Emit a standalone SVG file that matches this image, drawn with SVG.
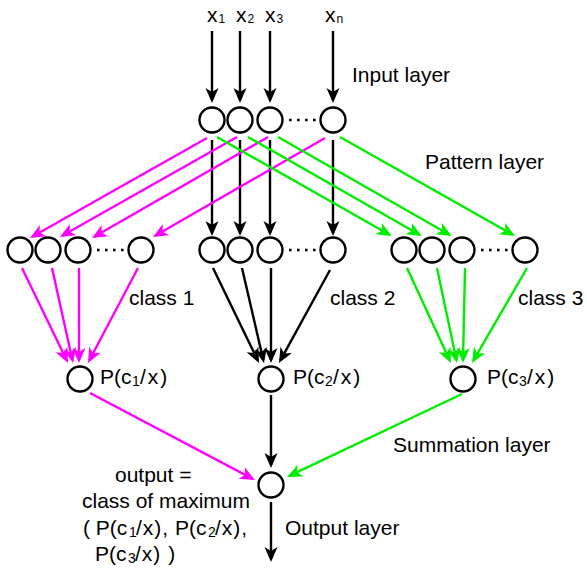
<svg xmlns="http://www.w3.org/2000/svg" width="587" height="570" viewBox="0 0 587 570">
  <style>
    text { font-family: "Liberation Sans", Arial, sans-serif; font-size: 21px; fill: #000; }
    .sub { font-size: 14px; }
    .xs { font-size: 12px; }
    .node { fill: #fff; stroke: #000; stroke-width: 2.4; }
    .k { fill: none; stroke: #000; stroke-width: 2.4; marker-end: url(#ak); }
    .m { fill: none; stroke: #ff00ff; stroke-width: 2.4; marker-end: url(#am); }
    .g { fill: none; stroke: #00ee00; stroke-width: 2.4; marker-end: url(#ag); }
    .dots { stroke: #000; stroke-width: 2.6; stroke-dasharray: 2.6 5.4; }
  </style>
  <defs>
    <marker id="ak" markerUnits="userSpaceOnUse" markerWidth="16" markerHeight="14" refX="12" refY="6.5" orient="auto" overflow="visible">
      <path d="M0,0 L15,6.5 L0,13 L4,6.5 z" fill="#000"/>
    </marker>
    <marker id="am" markerUnits="userSpaceOnUse" markerWidth="16" markerHeight="14" refX="12" refY="6.5" orient="auto" overflow="visible">
      <path d="M0,0 L15,6.5 L0,13 L4,6.5 z" fill="#ff00ff"/>
    </marker>
    <marker id="ag" markerUnits="userSpaceOnUse" markerWidth="16" markerHeight="14" refX="12" refY="6.5" orient="auto" overflow="visible">
      <path d="M0,0 L15,6.5 L0,13 L4,6.5 z" fill="#00ee00"/>
    </marker>
  </defs>

  <!-- connectors -->
  <g id="connectors">
    <!-- inputs into input layer -->
    <path class="k" d="M212,31 L212,100"/>
    <path class="k" d="M240,31 L240,100"/>
    <path class="k" d="M270,31 L270,100"/>
    <path class="k" d="M333,31 L333,100"/>
    <!-- input layer to class 2 -->
    <path class="k" d="M212,140 L212,233"/>
    <path class="k" d="M240,140 L240,233"/>
    <path class="k" d="M270,140 L270,233"/>
    <path class="k" d="M333,140 L333,233"/>
    <!-- input layer to class 1 -->
    <path class="m" d="M207,138 L32.6,236.5"/>
    <path class="m" d="M237,137 L62.6,235.5"/>
    <path class="m" d="M268,137 L94.6,236.5"/>
    <path class="m" d="M325,138 L155.6,235.5"/>
    <!-- input layer to class 3 -->
    <path class="g" d="M217,137 L389.1,234.5"/>
    <path class="g" d="M248,137 L419.1,234.5"/>
    <path class="g" d="M278,137 L449.1,234.5"/>
    <path class="g" d="M340,137 L512.4,234.5"/>
    <!-- class 1 to summation -->
    <path class="m" d="M22,268 L66.7,360.3"/>
    <path class="m" d="M52,268 L72.4,360.1"/>
    <path class="m" d="M79,268 L79,360"/>
    <path class="m" d="M138,268 L89.4,360.3"/>
    <!-- class 2 to summation -->
    <path class="k" d="M213,268 L257.7,360.3"/>
    <path class="k" d="M242,268 L263.3,360.1"/>
    <path class="k" d="M271,268 L271,360"/>
    <path class="k" d="M330,270 L280.4,360.4"/>
    <!-- class 3 to summation -->
    <path class="g" d="M407,268 L449.7,360.3"/>
    <path class="g" d="M437,268 L456.4,360.1"/>
    <path class="g" d="M465,268 L463,360"/>
    <path class="g" d="M527,268 L473.5,360.4"/>
    <!-- summation to output -->
    <path class="m" d="M90,393 L252.3,478.6"/>
    <path class="k" d="M271,395 L271,465"/>
    <path class="g" d="M462,394 L289.7,475.7"/>
    <path class="k" d="M271,502 L271,559"/>
  </g>

  <!-- input labels -->
  <g id="input-labels">
    <text x="207" y="22">x<tspan class="xs" dx="1" dy="1">1</tspan></text>
    <text x="236" y="22">x<tspan class="xs" dx="1" dy="1">2</tspan></text>
    <text x="265" y="22">x<tspan class="xs" dx="1" dy="1">3</tspan></text>
    <text x="325" y="22">x<tspan class="xs" dx="1" dy="1">n</tspan></text>
  </g>

  <!-- input layer -->
  <g id="in1"><circle class="node" cx="212" cy="120" r="12.5"/></g>
  <g id="in2"><circle class="node" cx="240" cy="120" r="12.5"/></g>
  <g id="in3"><circle class="node" cx="270" cy="120" r="12.5"/></g>
  <g id="inN"><circle class="node" cx="333" cy="120" r="12.5"/></g>

  <!-- pattern layer, class 1 -->
  <g id="c1p1"><circle class="node" cx="20" cy="250" r="12.5"/></g>
  <g id="c1p2"><circle class="node" cx="48" cy="250" r="12.5"/></g>
  <g id="c1p3"><circle class="node" cx="78" cy="250" r="12.5"/></g>
  <g id="c1pN"><circle class="node" cx="141" cy="250" r="12.5"/></g>
  <!-- pattern layer, class 2 -->
  <g id="c2p1"><circle class="node" cx="212" cy="250" r="12.5"/></g>
  <g id="c2p2"><circle class="node" cx="240" cy="250" r="12.5"/></g>
  <g id="c2p3"><circle class="node" cx="270" cy="250" r="12.5"/></g>
  <g id="c2pN"><circle class="node" cx="333" cy="250" r="12.5"/></g>
  <!-- pattern layer, class 3 -->
  <g id="c3p1"><circle class="node" cx="404" cy="250" r="12.5"/></g>
  <g id="c3p2"><circle class="node" cx="432" cy="250" r="12.5"/></g>
  <g id="c3p3"><circle class="node" cx="462" cy="250" r="12.5"/></g>
  <g id="c3pN"><circle class="node" cx="525" cy="250" r="12.5"/></g>

  <!-- elided nodes -->
  <g id="ellipses">
    <line class="dots" x1="289" y1="120" x2="318" y2="120"/>
    <line class="dots" x1="97" y1="250" x2="126" y2="250"/>
    <line class="dots" x1="289" y1="250" x2="318" y2="250"/>
    <line class="dots" x1="481" y1="250" x2="510" y2="250"/>
  </g>

  <!-- summation layer -->
  <g id="sum1">
    <circle class="node" cx="80" cy="379" r="12.5"/>
    <text x="100" y="384">P(c<tspan class="sub" x="132" dy="2">1</tspan><tspan x="140" dy="-2" letter-spacing="2">/x)</tspan></text>
  </g>
  <g id="sum2">
    <circle class="node" cx="271" cy="379" r="12.5"/>
    <text x="293" y="384">P(c<tspan class="sub" x="325" dy="2">2</tspan><tspan x="333" dy="-2" letter-spacing="2">/x)</tspan></text>
  </g>
  <g id="sum3">
    <circle class="node" cx="463" cy="379" r="12.5"/>
    <text x="487" y="384">P(c<tspan class="sub" x="519" dy="2">3</tspan><tspan x="527" dy="-2" letter-spacing="2">/x)</tspan></text>
  </g>

  <!-- output layer -->
  <g id="output">
    <circle class="node" cx="271" cy="485" r="12.5"/>
    <text x="115" y="482">output =</text>
    <text x="82" y="508">class of maximum</text>
    <text x="83" y="535">( P(c<tspan class="sub" x="129" dy="2">1</tspan><tspan x="136" dy="-2" letter-spacing="1">/x),</tspan><tspan x="175">P(c</tspan><tspan class="sub" x="208" dy="2">2</tspan><tspan x="215" dy="-2" letter-spacing="1">/x),</tspan></text>
    <text x="95" y="561">P(c<tspan class="sub" x="128" dy="2">3</tspan><tspan x="135" dy="-2" letter-spacing="1">/x) )</tspan></text>
  </g>

  <!-- layer and class captions -->
  <g id="captions">
    <text x="352" y="82">Input layer</text>
    <text x="425" y="169">Pattern layer</text>
    <text x="129" y="305">class 1</text>
    <text x="330" y="305">class 2</text>
    <text x="518" y="305">class 3</text>
    <text x="393" y="452">Summation layer</text>
    <text x="285" y="535">Output layer</text>
  </g>
</svg>
